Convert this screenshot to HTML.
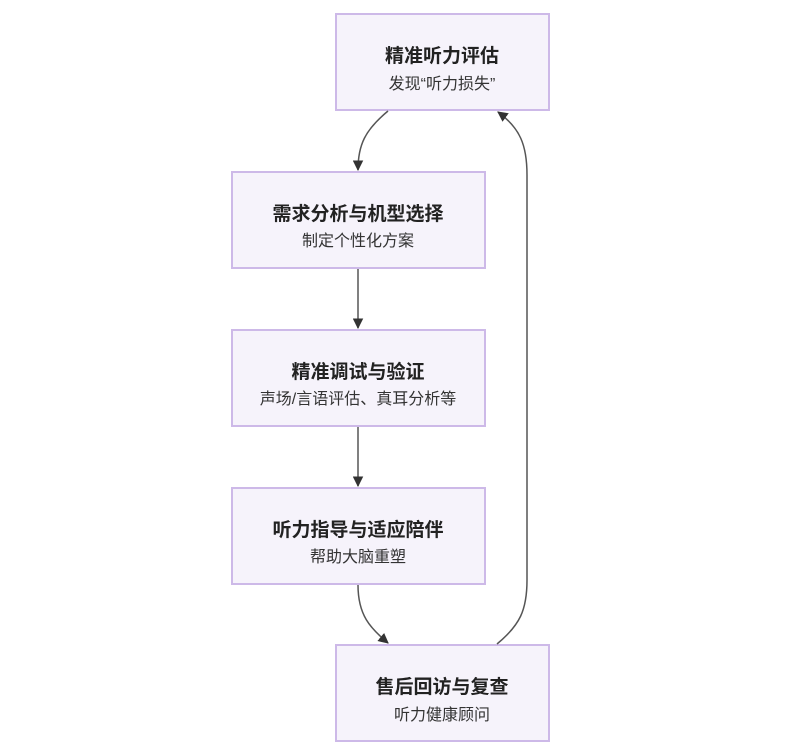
<!DOCTYPE html>
<html><head><meta charset="utf-8"><style>
html,body{margin:0;padding:0;background:#fff;}
svg{display:block}
.t{font-family:"Liberation Sans","Noto Sans CJK SC",sans-serif;font-weight:bold;font-size:19px;fill:#222;text-anchor:middle}
.s{font-family:"Liberation Sans","Noto Sans CJK SC",sans-serif;font-size:16px;fill:#333;text-anchor:middle}
rect{fill:#f6f3fb;stroke:#cdb9e8;stroke-width:2}
path.l{fill:none;stroke:#555;stroke-width:1.5}
</style></head><body>
<svg width="795" height="756" viewBox="0 0 795 756">
<defs><marker id="a" viewBox="0 0 10 10" refX="9" refY="5" markerWidth="7" markerHeight="7" orient="auto-start-reverse"><path d="M0,0L10,5L0,10z" fill="#333"/></marker></defs>
<rect x="336" y="14" width="213" height="96"/>
<rect x="232" y="172" width="253" height="96"/>
<rect x="232" y="330" width="253" height="96"/>
<rect x="232" y="488" width="253" height="96"/>
<rect x="336" y="645" width="213" height="96"/>
<text class="t" x="442" y="62">精准听力评估</text>
<text class="s" x="442" y="89">发现“听力损失”</text>
<text class="t" x="358" y="220">需求分析与机型选择</text>
<text class="s" x="358" y="246">制定个性化方案</text>
<text class="t" x="358" y="378">精准调试与验证</text>
<text class="s" x="358" y="404">声场/言语评估、真耳分析等</text>
<text class="t" x="358" y="536">听力指导与适应陪伴</text>
<text class="s" x="358" y="562">帮助大脑重塑</text>
<text class="t" x="442" y="693">售后回访与复查</text>
<text class="s" x="442" y="720">听力健康顾问</text>
<path class="l" d="M388,111 C365,130 358,145 358,170" marker-end="url(#a)"/>
<path class="l" d="M358,269 L358,328" marker-end="url(#a)"/>
<path class="l" d="M358,427 L358,486" marker-end="url(#a)"/>
<path class="l" d="M358,585 C358,615 370,628 388,643" marker-end="url(#a)"/>
<path class="l" d="M497,644 C520,625 527,610 527,580 L527,175 C527,145 520,128 498,112" marker-end="url(#a)"/>
</svg>
</body></html>
